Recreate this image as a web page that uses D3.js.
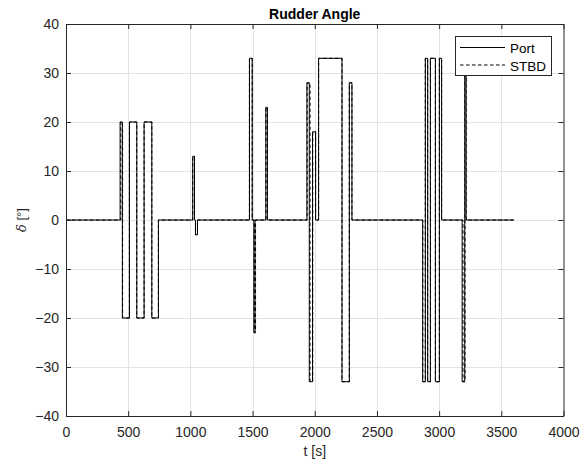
<!DOCTYPE html>
<html>
<head>
<meta charset="utf-8">
<script src="https://cdn.jsdelivr.net/npm/d3@7"></script>
<style>
  html, body { margin: 0; padding: 0; background: #fff; }
  svg { display: block; font-family: "Liberation Sans", Arial, sans-serif; }
</style>
</head>
<body>
<svg id="chart" width="588" height="467"></svg>
<script>
// Rudder command steps: each value holds from its time until the next time
const portTime = [0, 435, 453, 510, 569, 628, 690, 743, 1019, 1033, 1041, 1057, 1475, 1497, 1510, 1520, 1607, 1619, 1937, 1956, 1982, 2007, 2031, 2219, 2278, 2299, 2868, 2889, 2908, 2930, 2970, 3002, 3020, 3185, 3206, 3217, 3600];
const portAngle = [0, 20, -20, 20, -20, 20, -20, 0, 13, 0, -3, 0, 33, 0, -23, 0, 23, 0, 28, -33, 18, 0, 33, -33, 28, 0, -33, 33, -33, 33, -33, 33, 0, -33, 33, 0, 0];

const stbdTime = [0, 441, 455, 510, 569, 628, 690, 743, 1019, 1033, 1041, 1057, 1475, 1497, 1516, 1524, 1607, 1619, 1939, 1962, 1984, 2007, 2031, 2219, 2278, 2299, 2868, 2889, 2908, 2930, 2970, 3002, 3020, 3192, 3208, 3217, 3600];
const stbdAngle = [0, 20, -20, 20, -20, 20, -20, 0, 13, 0, -3, 0, 33, 0, -23, 0, 23, 0, 28, -33, 18, 0, 33, -33, 28, 0, -33, 33, -33, 33, -33, 33, 0, -33, 33, 0, 0];

const xTicks = [0, 500, 1000, 1500, 2000, 2500, 3000, 3500, 4000];
const yTicks = [-40, -30, -20, -10, 0, 10, 20, 30, 40];
const seriesNames = ["Port", "STBD"];

const svg = d3.select("#chart");
const plotL = 66, plotR = 563.5, plotT = 24, plotB = 416;
const axisColor = "#262626";
const dash = "3.5,2.5";

const x = d3.scaleLinear().domain([0, 4000]).range([plotL, plotR]);
const y = d3.scaleLinear().domain([-40, 40]).range([plotB, plotT]);

// grid
const grid = svg.append("g").attr("stroke", "#e3e3e3").attr("stroke-width", 1);
xTicks.slice(1, -1).forEach(t => grid.append("line")
  .attr("x1", Math.round(x(t)) + 0.5).attr("x2", Math.round(x(t)) + 0.5)
  .attr("y1", plotT).attr("y2", plotB));
yTicks.slice(1, -1).forEach(t => grid.append("line")
  .attr("y1", Math.round(y(t)) + 0.5).attr("y2", Math.round(y(t)) + 0.5)
  .attr("x1", plotL).attr("x2", plotR));

// data lines
const line = d3.line()
  .x(d => x(d[0])).y(d => y(d[1]))
  .curve(d3.curveStepAfter);

const portData = d3.zip(portTime, portAngle);
const stbdData = d3.zip(stbdTime, stbdAngle);

svg.append("path").datum(portData)
  .attr("d", line).attr("fill", "none")
  .attr("stroke", "#000").attr("stroke-width", 1);
svg.append("path").datum(stbdData)
  .attr("d", line).attr("fill", "none")
  .attr("stroke", "#000").attr("stroke-width", 1)
  .attr("stroke-dasharray", dash);

// axes (inward ticks, mirrored on top and right)
const tickLen = 5;
const xAxisB = d3.axisBottom(x).tickValues(xTicks).tickSizeInner(-tickLen).tickSizeOuter(0).tickPadding(11).tickFormat(d3.format("d"));
const xAxisT = d3.axisTop(x).tickValues(xTicks).tickSizeInner(-tickLen).tickSizeOuter(0).tickFormat("");
const yAxisL = d3.axisLeft(y).tickValues(yTicks).tickSizeInner(-tickLen).tickSizeOuter(0).tickPadding(7).tickFormat(d3.format("d"));
const yAxisR = d3.axisRight(y).tickValues(yTicks).tickSizeInner(-tickLen).tickSizeOuter(0).tickFormat("");

function styleAxis(g) {
  g.selectAll("path").attr("stroke", axisColor).attr("stroke-width", 1);
  g.selectAll("line").attr("stroke", axisColor);
  g.selectAll("text").attr("fill", axisColor).attr("font-size", 14)
    .attr("font-family", "Liberation Sans, Arial, sans-serif");
}
svg.append("g").attr("transform", `translate(0,${plotB})`).call(xAxisB).call(styleAxis);
svg.append("g").attr("transform", `translate(0,${plotT})`).call(xAxisT).call(styleAxis);
svg.append("g").attr("transform", `translate(${plotL},0)`).call(yAxisL).call(styleAxis);
svg.append("g").attr("transform", `translate(${plotR},0)`).call(yAxisR).call(styleAxis);

// title and axis labels
svg.append("text").attr("x", (plotL + plotR) / 2).attr("y", 19)
  .attr("text-anchor", "middle").attr("font-weight", "bold").attr("font-size", 14)
  .attr("fill", "#000").text("Rudder Angle");
svg.append("text").attr("x", (plotL + plotR) / 2).attr("y", 456)
  .attr("text-anchor", "middle").attr("font-size", 14).attr("fill", axisColor).text("t [s]");
const yl = svg.append("text")
  .attr("transform", `translate(26,${(plotT + plotB) / 2}) rotate(-90)`)
  .attr("text-anchor", "middle").attr("font-size", 13).attr("fill", axisColor);
yl.append("tspan").attr("font-style", "italic").attr("font-family", "DejaVu Serif, serif").text("δ");
yl.append("tspan").text(" [°]");

// legend
const lg = svg.append("g");
lg.append("rect").attr("x", 455.5).attr("y", 36.5).attr("width", 96).attr("height", 39)
  .attr("fill", "#fff").attr("stroke", axisColor).attr("stroke-width", 1);
seriesNames.forEach((name, i) => {
  const yy = 47.5 + i * 17.5;
  lg.append("line").attr("x1", 460).attr("x2", 505).attr("y1", yy).attr("y2", yy)
    .attr("stroke", "#000").attr("stroke-width", 1)
    .attr("stroke-dasharray", i === 1 ? dash : null);
  lg.append("text").attr("x", 510).attr("y", yy + 5.5).attr("font-size", 13.5)
    .attr("fill", "#000").text(name);
});
</script>
</body>
</html>
